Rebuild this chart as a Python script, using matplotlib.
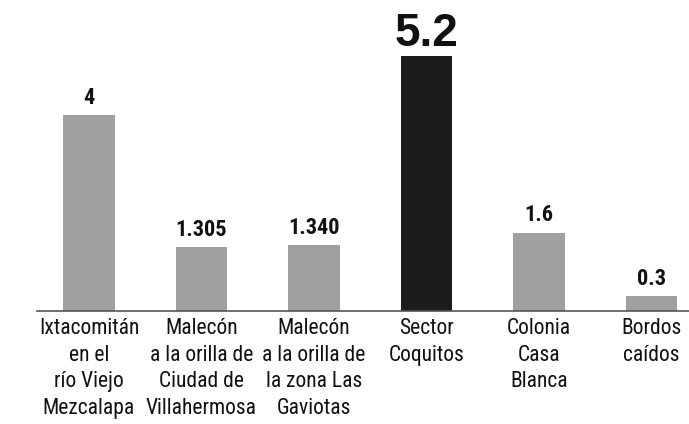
import matplotlib
matplotlib.use("Agg")
import matplotlib.pyplot as plt

# datos
places = [
    "Ixtacomitán\nen el\nrío Viejo\nMezcalapa",
    "Malecón\na la orilla de\nCiudad de\nVillahermosa",
    "Malecón\na la orilla de\nla zona Las\nGaviotas",
    "Sector\nCoquitos",
    "Colonia\nCasa\nBlanca",
    "Bordos\ncaídos",
]
values = [4, 1.305, 1.340, 5.2, 1.6, 0.3]
value_labels = ["4", "1.305", "1.340", "5.2", "1.6", "0.3"]
highlight = "Sector\nCoquitos"

narrow = ["Roboto Condensed", "DejaVu Sans"]

fig = plt.figure(figsize=(6.89, 4.24), dpi=100)
ax = fig.add_axes([37 / 689, 113 / 424, 652 / 689, 311 / 424])

x = list(range(len(places)))
colors = ["#1c1c1c" if p == highlight else "#a0a0a0" for p in places]
bars = ax.bar(x, values, width=0.46, color=colors, zorder=2)

for b, lab, p in zip(bars, value_labels, places):
    if p == highlight:
        ax.annotate(lab, (b.get_x() + b.get_width() / 2, b.get_height()),
                    xytext=(0, 7), textcoords="offset points", ha="center", va="baseline",
                    fontsize=33, fontweight="bold", family=["Liberation Sans", "DejaVu Sans"],
                    color="#111111")
    else:
        ax.annotate(lab, (b.get_x() + b.get_width() / 2, b.get_height()),
                    xytext=(0, 8), textcoords="offset points", ha="center", va="baseline",
                    fontsize=16, fontweight="bold", family=narrow, color="#111111")

ax.set_xlim(-0.462, 5.333)
ax.set_ylim(0, 311 / 49)
ax.set_xticks(x)
ax.set_xticklabels(places, fontsize=15.5, family=narrow, color="#111111", linespacing=1.36)
ax.tick_params(axis="x", length=0, pad=5)
ax.set_yticks([])
for s in ["top", "right", "left"]:
    ax.spines[s].set_visible(False)
ax.spines["bottom"].set_color("#555555")
ax.spines["bottom"].set_linewidth(1.2)
ax.patch.set_alpha(0)

fig.savefig("out.png", dpi=100)
